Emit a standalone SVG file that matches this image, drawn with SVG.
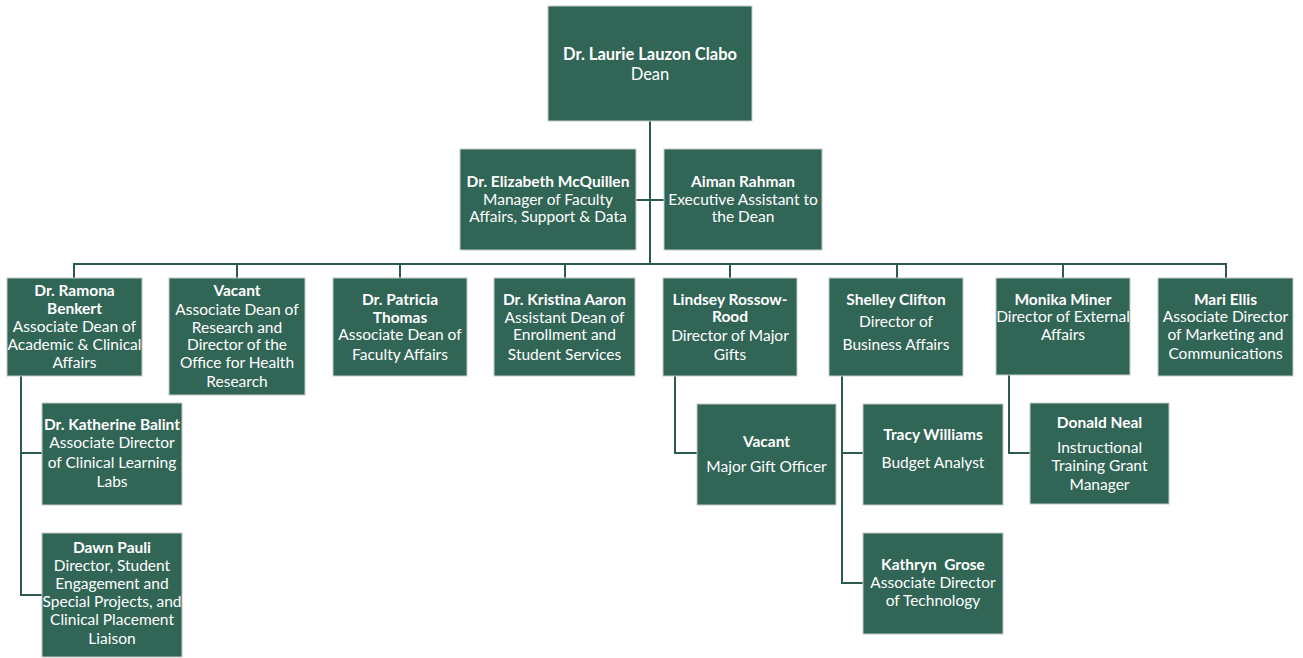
<svg xmlns="http://www.w3.org/2000/svg" width="1303" height="658" viewBox="0 0 1303 658">
<style>
.b{fill:#316556;stroke:#c3ccc8;stroke-width:1}
.t{font-family:Lato,"Liberation Sans",sans-serif;font-size:15.5px;fill:#ffffff;text-anchor:middle}
.d{font-size:16.5px}
.n{font-weight:bold}
.c{fill:none;stroke:#2d5a4e;stroke-width:2}
</style>
<rect width="1303" height="658" fill="#ffffff"/>
<g id="connectors">
<path class="c" d="M650,121V264M636,200H664M74,278V264H1226V278M237,278V264M400,278V264M565,278V264M730,278V264M897,278V264M1063,278V264"/>
<path class="c" d="M21,376V595H42M21,453H42"/>
<path class="c" d="M675,376V453H697"/>
<path class="c" d="M842,376V583H863M842,453H863"/>
<path class="c" d="M1009,375V453H1030"/>
</g>
<g id="dean"><rect class="b" x="548" y="6" width="204" height="115"/>
<text class="t d"><tspan class="n" x="650" y="60">Dr. Laurie Lauzon Clabo</tspan><tspan x="650" y="80">Dean</tspan></text></g>
<g id="mcquillen"><rect class="b" x="460" y="149" width="176" height="101"/>
<text class="t"><tspan class="n" x="548" y="187">Dr. Elizabeth McQuillen</tspan><tspan x="548" y="205">Manager of Faculty</tspan><tspan x="548" y="222">Affairs, Support &amp; Data</tspan></text></g>
<g id="rahman"><rect class="b" x="664" y="149" width="158" height="101"/>
<text class="t"><tspan class="n" x="743" y="187">Aiman Rahman</tspan><tspan x="743" y="205">Executive Assistant to</tspan><tspan x="743" y="222">the Dean</tspan></text></g>
<g id="benkert"><rect class="b" x="7" y="278" width="135" height="98"/>
<text class="t"><tspan class="n" x="74.5" y="296">Dr. Ramona</tspan><tspan class="n" x="74.5" y="314">Benkert</tspan><tspan x="74.5" y="332">Associate Dean of</tspan><tspan x="74.5" y="350">Academic &amp; Clinical</tspan><tspan x="74.5" y="368">Affairs</tspan></text></g>
<g id="vacant-research"><rect class="b" x="169" y="278" width="136" height="117"/>
<text class="t"><tspan class="n" x="237" y="296">Vacant</tspan><tspan x="237" y="315">Associate Dean of</tspan><tspan x="237" y="333">Research and</tspan><tspan x="237" y="350">Director of the</tspan><tspan x="237" y="368">Office for Health</tspan><tspan x="237" y="387">Research</tspan></text></g>
<g id="thomas"><rect class="b" x="333" y="278" width="134" height="98"/>
<text class="t"><tspan class="n" x="400" y="305">Dr. Patricia</tspan><tspan class="n" x="400" y="323">Thomas</tspan><tspan x="400" y="340">Associate Dean of</tspan><tspan x="400" y="360">Faculty Affairs</tspan></text></g>
<g id="aaron"><rect class="b" x="494" y="278" width="141" height="98"/>
<text class="t"><tspan class="n" x="564.5" y="305">Dr. Kristina Aaron</tspan><tspan x="564.5" y="323">Assistant Dean of</tspan><tspan x="564.5" y="340">Enrollment and</tspan><tspan x="564.5" y="360">Student Services</tspan></text></g>
<g id="rossow-rood"><rect class="b" x="663" y="278" width="134" height="98"/>
<text class="t"><tspan class="n" x="730" y="305">Lindsey Rossow-</tspan><tspan class="n" x="730" y="322">Rood</tspan><tspan x="730" y="341">Director of Major</tspan><tspan x="730" y="360">Gifts</tspan></text></g>
<g id="clifton"><rect class="b" x="829" y="278" width="134" height="98"/>
<text class="t"><tspan class="n" x="896" y="305">Shelley Clifton</tspan><tspan x="896" y="327">Director of</tspan><tspan x="896" y="350">Business Affairs</tspan></text></g>
<g id="miner"><rect class="b" x="996" y="278" width="134" height="97"/>
<text class="t"><tspan class="n" x="1063" y="305">Monika Miner</tspan><tspan x="1063" y="322">Director of External</tspan><tspan x="1063" y="340">Affairs</tspan></text></g>
<g id="ellis"><rect class="b" x="1158" y="278" width="135" height="98"/>
<text class="t"><tspan class="n" x="1225.5" y="305">Mari Ellis</tspan><tspan x="1225.5" y="322">Associate Director</tspan><tspan x="1225.5" y="340">of Marketing and</tspan><tspan x="1225.5" y="359">Communications</tspan></text></g>
<g id="balint"><rect class="b" x="42" y="403" width="140" height="102"/>
<text class="t"><tspan class="n" x="112" y="430">Dr. Katherine Balint</tspan><tspan x="112" y="448">Associate Director</tspan><tspan x="112" y="468">of Clinical Learning</tspan><tspan x="112" y="487">Labs</tspan></text></g>
<g id="pauli"><rect class="b" x="42" y="533" width="140" height="124"/>
<text class="t"><tspan class="n" x="112" y="553">Dawn Pauli</tspan><tspan x="112" y="571">Director, Student</tspan><tspan x="112" y="589">Engagement and</tspan><tspan x="112" y="607">Special Projects, and</tspan><tspan x="112" y="625">Clinical Placement</tspan><tspan x="112" y="644">Liaison</tspan></text></g>
<g id="vacant-gift"><rect class="b" x="697" y="404" width="139" height="101"/>
<text class="t"><tspan class="n" x="766.5" y="447">Vacant</tspan><tspan x="766.5" y="472">Major Gift Officer</tspan></text></g>
<g id="williams"><rect class="b" x="863" y="404" width="140" height="101"/>
<text class="t"><tspan class="n" x="933" y="440">Tracy Williams</tspan><tspan x="933" y="468">Budget Analyst</tspan></text></g>
<g id="grose"><rect class="b" x="863" y="533" width="140" height="101"/>
<text class="t"><tspan class="n" x="933" y="570" xml:space="preserve">Kathryn  Grose</tspan><tspan x="933" y="588">Associate Director</tspan><tspan x="933" y="606">of Technology</tspan></text></g>
<g id="neal"><rect class="b" x="1030" y="403" width="139" height="101"/>
<text class="t"><tspan class="n" x="1099.5" y="428">Donald Neal</tspan><tspan x="1099.5" y="453">Instructional</tspan><tspan x="1099.5" y="471">Training Grant</tspan><tspan x="1099.5" y="490">Manager</tspan></text></g>
</svg>
